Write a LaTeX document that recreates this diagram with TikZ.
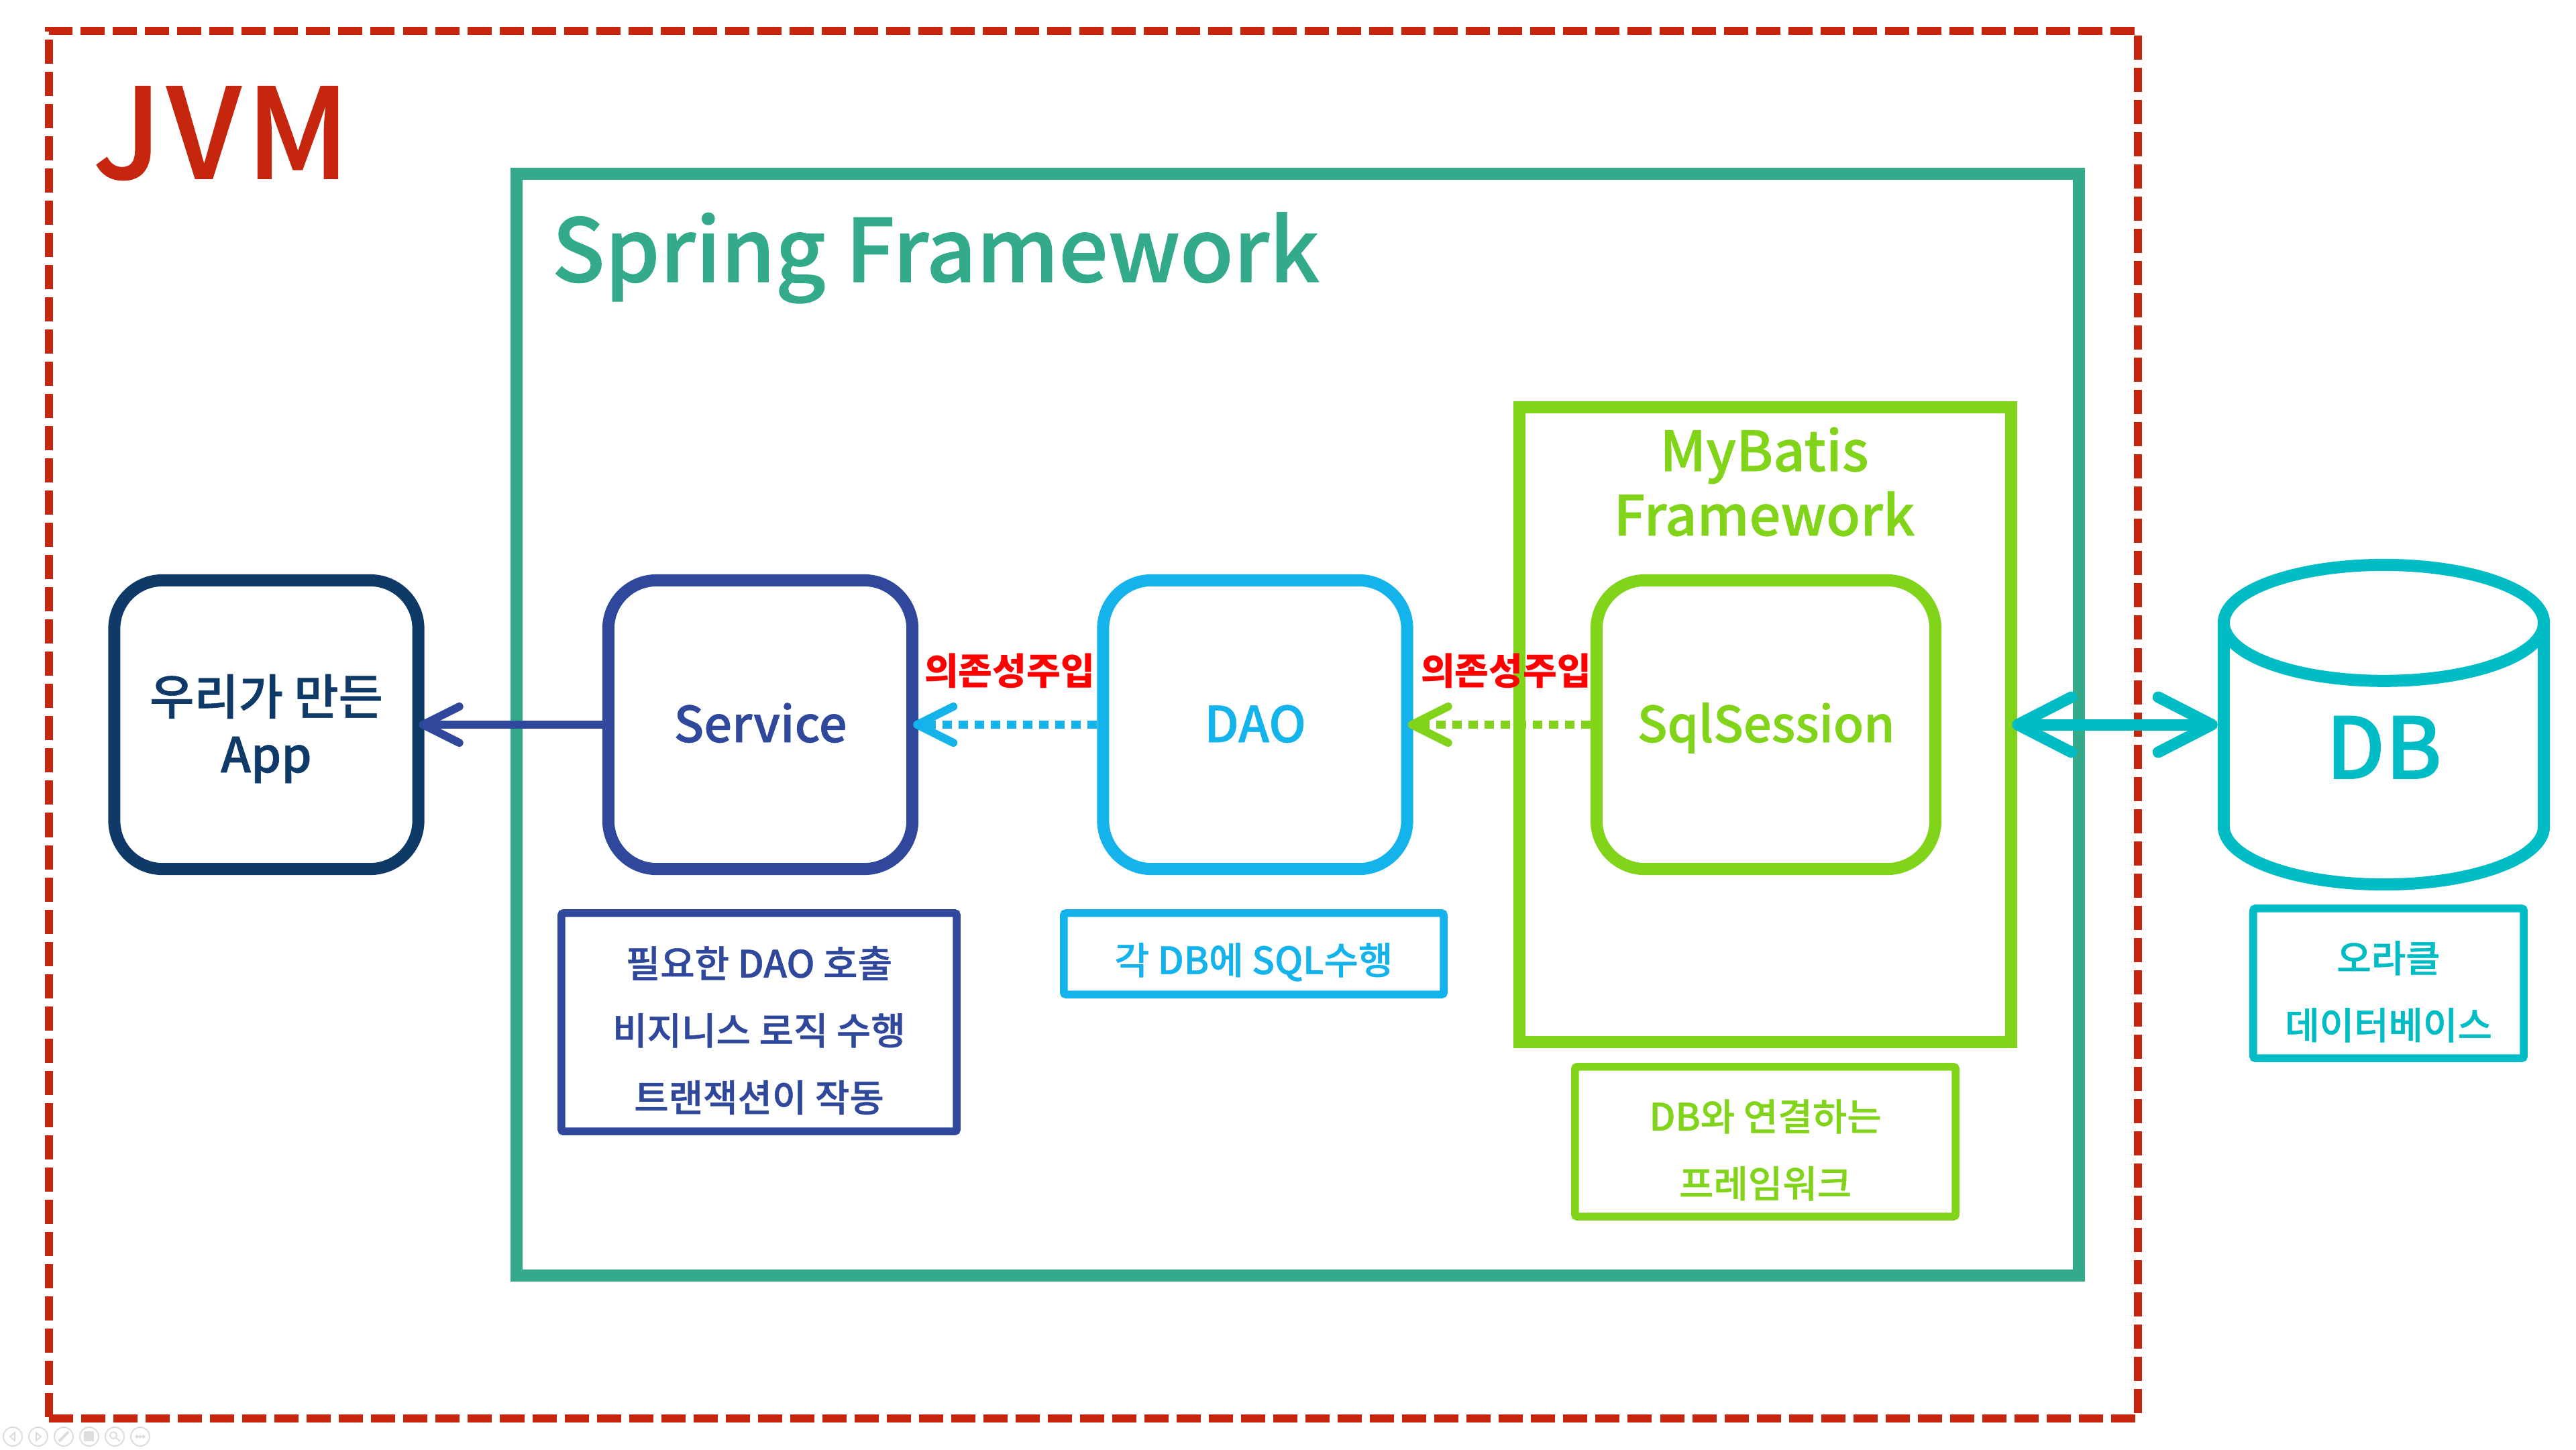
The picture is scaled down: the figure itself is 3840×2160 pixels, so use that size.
\documentclass[tikz,border=0pt]{standalone}
\usepackage{fontspec}
\setmainfont{Noto Sans CJK KR}[UprightFont={* Medium}]
\newfontfamily\titlefont{Noto Sans CJK KR}[UprightFont={* Medium},FakeBold=0.8]
\usetikzlibrary{positioning,arrows.meta,shapes.geometric}
\definecolor{jvmred}{HTML}{C5260D}
\definecolor{springgreen}{HTML}{33AB8B}
\definecolor{mybatislime}{HTML}{82D41A}
\definecolor{serviceblue}{HTML}{30489C}
\definecolor{daoblue}{HTML}{14B3EB}
\definecolor{dbteal}{HTML}{00BCC4}
\definecolor{appnavy}{HTML}{0F3A68}
\definecolor{toolgray}{HTML}{DDDDDD}
\newcommand{\fsize}[1]{\fontsize{#1}{#1}\selectfont}
\newcommand{\notestrut}{\rule{0pt}{0.71cm}}
\begin{document}
\begin{tikzpicture}[
  x=0.01cm, y=-0.01cm,
  frame/.style={draw, rectangle, fill=none, inner sep=0pt},
  comp/.style={frame, rounded corners=0.72cm, line width=0.18cm, minimum width=4.53cm, minimum height=4.3cm, text height=0.52cm, text depth=0cm, font=\titlefont\fsize{21}},
  note/.style={frame, rounded corners=0.03cm, line width=0.115cm, align=center, font=\titlefont\fontsize{15.9}{28.4}\selectfont},
  title/.style={inner sep=0pt, font=\titlefont\fsize{37}},
  inject/.style={inner sep=0pt, text=red, font=\bfseries\fsize{15.7}},
  flow/.style={-{Straight Barb[round,length=0.54cm,width=0.54cm,line width=0.12cm]}, line width=0.12cm, shorten >=-0.08cm},
  dotflow/.style={flow, dash pattern=on 0.14cm off 0.10cm}
]
\useasboundingbox (0,0) rectangle (3840,2160);
% outer frames
\node[frame, draw=jvmred, line width=0.12cm, dash pattern=on 0.36cm off 0.12cm, minimum width=31.12cm, minimum height=20.67cm] (jvm) at (1630,1080) {};
\node[frame, draw=springgreen, line width=0.18cm, minimum width=23.27cm, minimum height=16.41cm] (spring) at (1934.5,1079.5) {};
\node[frame, draw=mybatislime, line width=0.18cm, minimum width=7.33cm, minimum height=9.46cm] (mybatis) at (2631.5,1080) {};
% components
\node[comp, draw=appnavy, text=appnavy, align=center, text height=, text depth=, font=\titlefont\fontsize{20.5}{24.5}\selectfont] (app) at (397,1080) {\rule{0pt}{0.72cm}우리가 만든\\App};
\node[comp, draw=serviceblue, text=serviceblue] (service) at (1133.5,1080) {Service};
\node[comp, draw=daoblue, text=daoblue] (dao) at (1871,1080) {DAO};
\node[comp, draw=mybatislime, text=mybatislime, minimum width=5.05cm] (sqlsession) at (2632.5,1080) {SqlSession};
\node[draw=dbteal, text=dbteal, cylinder, shape border rotate=90, aspect=1, anchor=shape center, line width=0.18cm, inner sep=0pt, minimum width=4.77cm, minimum height=4.76cm, text depth=0.28cm, font=\titlefont\fsize{36}] (db) at (3553.5,1080) {DB};
% captions
\node[note, draw=serviceblue, text=serviceblue, minimum width=5.89cm, minimum height=3.25cm] (servicenote) at (1131.5,1523.5) {\notestrut 필요한 DAO 호출\\비지니스 로직 수행\\트랜잭션이 작동};
\node[note, draw=daoblue, text=daoblue, minimum width=5.66cm, minimum height=1.21cm] (daonote) at (1869,1421.5) {\notestrut 각 DB에 SQL수행};
\node[note, draw=mybatislime, text=mybatislime, minimum width=5.67cm, minimum height=2.23cm] (mybatisnote) at (2631.5,1701.5) {\notestrut DB와 연결하는\\프레임워크};
\node[note, draw=dbteal, text=dbteal, minimum width=4.03cm, minimum height=2.23cm] (dbnote) at (3560.5,1465.5) {\notestrut 오라클\\데이터베이스};
% connectors
\draw[flow, draw=serviceblue] (service) -- (app);
\draw[dotflow, draw=daoblue] (dao) -- (service);
\draw[dotflow, draw=mybatislime] (sqlsession) -- (dao);
\draw[<->, >={Straight Barb[round,length=0.8cm,width=0.82cm,line width=0.17cm]}, draw=dbteal, line width=0.17cm, shorten <=-0.08cm] (mybatis.east) -- (db.west |- mybatis.east);
% titles
\node[title, text=jvmred, anchor=base west, font=\titlefont\fsize{53}] (jvmtitle) at (138,266) {\addfontfeature{LetterSpace=4}JVM};
\node[title, text=springgreen, anchor=base west] (springtitle) at (822,420) {Spring Framework};
\node[title, text=mybatislime, align=center, font=\titlefont\fontsize{23.5}{27.3}\selectfont] (mybatistitle) at (2630,718) {MyBatis\\Framework};
\node[inject] (inject1) at (1505,1000) {의존성주입};
\node[inject] (inject2) at (2245,1000) {의존성주입};
% slide show buttons
\foreach \i/\cx in {1/19,2/57,3/95,4/133,5/171,6/209}
  \node[circle, draw=toolgray, line width=0.02cm, minimum size=0.28cm, inner sep=0pt] (btn\i) at (\cx,2141) {};
\draw[toolgray, line width=0.02cm] (22,2135) -- (15,2141) -- (22,2147) -- cycle;
\draw[toolgray, line width=0.02cm] (54,2135) -- (61,2141) -- (54,2147) -- cycle;
\draw[toolgray, line width=0.04cm] (88,2148) -- (102,2134);
\fill[toolgray] (125,2133) rectangle (140,2148);
\draw[toolgray, line width=0.02cm] (169,2139) circle (5) (173,2143) -- (179,2148);
\foreach \cx in {204,209,214} \draw[toolgray, line width=0.02cm] (\cx,2141) circle (1.5);
\end{tikzpicture}
\end{document}
